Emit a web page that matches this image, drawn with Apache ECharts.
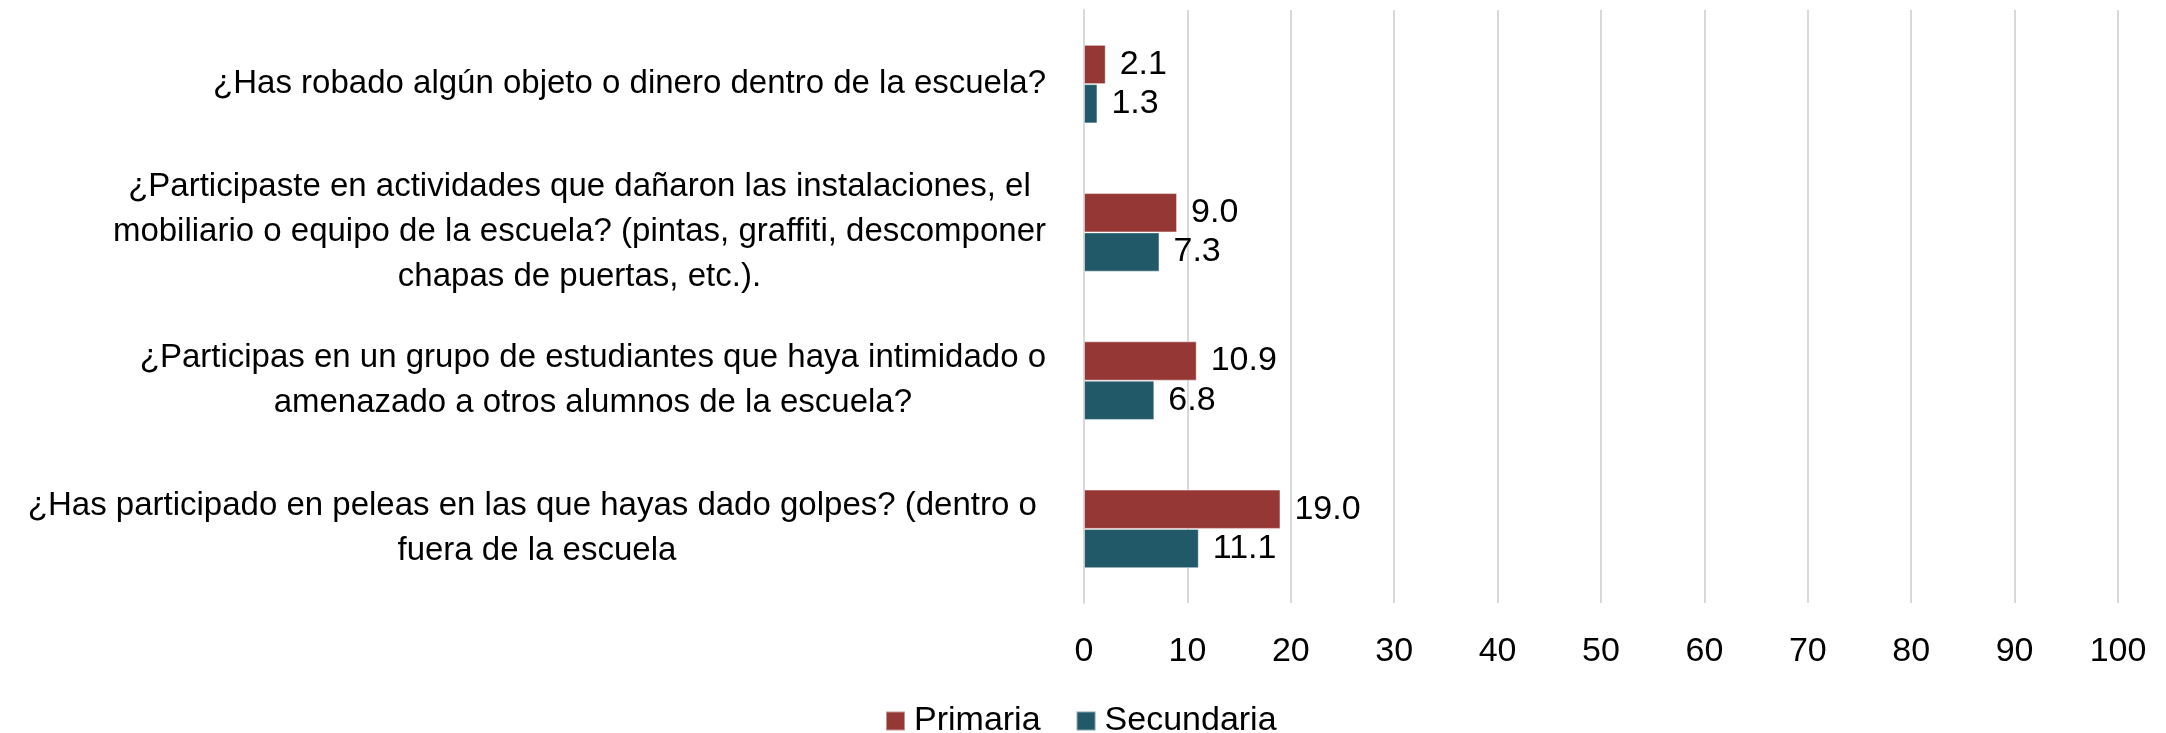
<!DOCTYPE html>
<html>
<head>
<meta charset="utf-8">
<script src="https://cdn.jsdelivr.net/npm/echarts@6/dist/echarts.min.js"></script>
<style>
  html, body { margin: 0; padding: 0; background: #fff; }
  #chart { width: 2166px; height: 733px; }
</style>
</head>
<body>
<div id="chart"></div>
<script>
// preguntas (eje vertical, de arriba a abajo)
const categories = [
  '¿Has robado algún objeto o dinero dentro de la escuela?',
  '¿Participaste en actividades que dañaron las instalaciones, el\nmobiliario o equipo de la escuela? (pintas, graffiti, descomponer\nchapas de puertas, etc.).',
  '¿Participas en un grupo de estudiantes que haya intimidado o\namenazado a otros alumnos de la escuela?',
  '¿Has participado en peleas en las que hayas dado golpes? (dentro o \nfuera de la escuela'
]
const primaria = [2.1, 9.0, 10.9, 19.0]
const secundaria = [1.3, 7.3, 6.8, 11.1]
const xTicks = [0, 100, 10] // min, max, intervalo

const font = "'Liberation Sans', Arial, sans-serif"
const chart = echarts.init(document.getElementById('chart'))

const barLabel = {
  show: true,
  position: 'right',
  distance: 14,
  fontFamily: font,
  fontSize: 34,
  color: '#000',
  formatter: p => p.value.toFixed(1)
}

const option = {
  backgroundColor: '#fff',
  animation: false,
  grid: { left: 1084, right: 48, top: 10, bottom: 130, outerBoundsMode: 'none' },
  legend: {
    left: 885,
    top: 704,
    padding: 0,
    itemWidth: 19,
    itemHeight: 19,
    itemGap: 35,
    icon: 'rect',
    textStyle: { fontFamily: font, fontSize: 34, color: '#000', padding: [0, 0, 0, 4] },
    data: ['Primaria', 'Secundaria']
  },
  xAxis: {
    type: 'value',
    min: xTicks[0],
    max: xTicks[1],
    interval: xTicks[2],
    axisLine: { show: false },
    axisTick: { show: false },
    splitLine: { show: true, lineStyle: { color: '#d9d9d9', width: 2 } },
    axisLabel: { fontFamily: font, fontSize: 34, color: '#000', margin: 32 }
  },
  yAxis: {
    type: 'category',
    inverse: true,
    data: categories,
    axisLine: { show: true, lineStyle: { color: '#d9d9d9', width: 2 } },
    axisTick: { show: false },
    axisLabel: {
      margin: 38,
      align: 'right',
      fontFamily: font,
      fontSize: 33,
      lineHeight: 45,
      color: '#000',
      // cada renglón centrado dentro del bloque
      formatter: v => v.split('\n').map(s => '{c|' + s + '}').join('\n'),
      rich: { c: { align: 'center', fontFamily: font, fontSize: 33, lineHeight: 45, color: '#000' } }
    }
  },
  series: [
    {
      name: 'Primaria',
      type: 'bar',
      data: primaria,
      barGap: '0%',
      barCategoryGap: '47%',
      itemStyle: { color: '#953735', borderColor: 'rgba(255,255,255,0.45)', borderWidth: 1 },
      label: barLabel
    },
    {
      name: 'Secundaria',
      type: 'bar',
      data: secundaria,
      barGap: '0%',
      barCategoryGap: '47%',
      itemStyle: { color: '#215968', borderColor: 'rgba(255,255,255,0.45)', borderWidth: 1 },
      label: barLabel
    }
  ]
}

chart.setOption(option)
</script>
</body>
</html>
